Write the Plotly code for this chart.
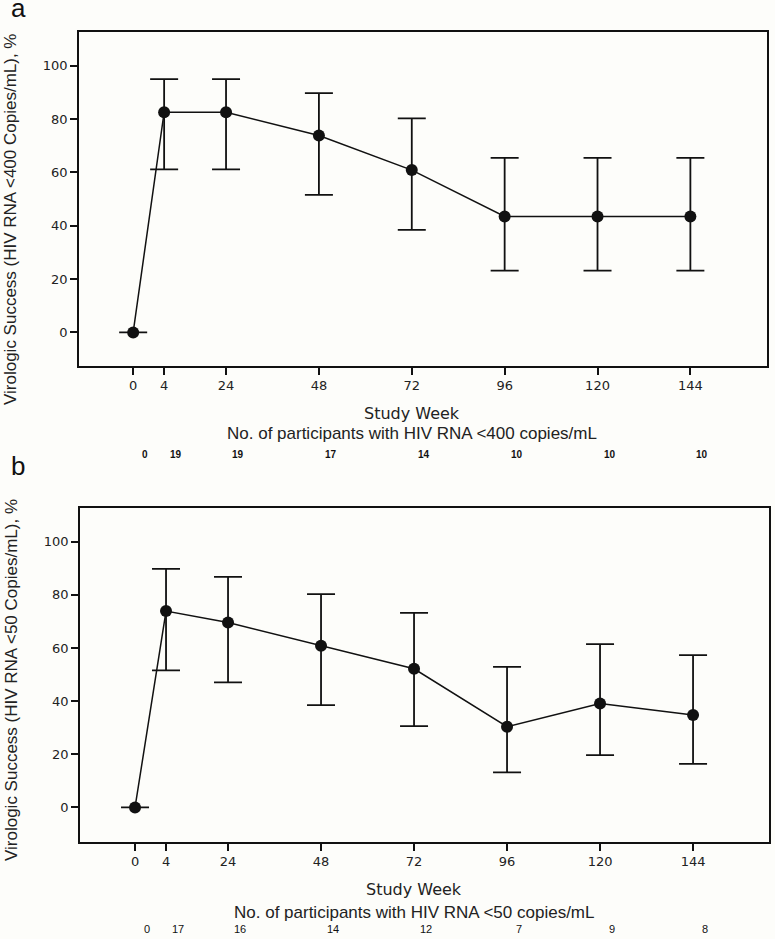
import plotly.graph_objects as go

# ---- data ----
week_labels = ["0", "4", "24", "48", "72", "96", "120", "144"]
week_pos = [0, 8, 24, 48, 72, 96, 120, 144]  # plotted positions (week 4 drawn spaced out)

a_pct = [0, 82.6, 82.6, 73.9, 60.9, 43.5, 43.5, 43.5]
a_low = [0, 61.2, 61.2, 51.6, 38.5, 23.2, 23.2, 23.2]
a_high = [0, 95.0, 95.0, 89.8, 80.3, 65.5, 65.5, 65.5]
a_n = ["0", "19", "19", "17", "14", "10", "10", "10"]

b_pct = [0, 73.9, 69.6, 60.9, 52.2, 30.4, 39.1, 34.8]
b_low = [0, 51.6, 47.1, 38.5, 30.6, 13.2, 19.7, 16.4]
b_high = [0, 89.8, 86.8, 80.3, 73.2, 52.9, 61.5, 57.3]
b_n = ["0", "17", "16", "14", "12", "7", "9", "8"]

y_ticks = [0, 20, 40, 60, 80, 100]

FONT = "Liberation Sans, Arial, sans-serif"
WIDE = "DejaVu Sans, Verdana, sans-serif"
INK = "#111111"
TXT = "#222222"
BG = "#fdfdfa"

fig = go.Figure()


def add_panel(pct, low, high, xa, ya):
    fig.add_trace(go.Scatter(
        x=week_pos, y=pct, xaxis=xa, yaxis=ya,
        mode="lines+markers",
        line=dict(color=INK, width=1.5),
        marker=dict(color=INK, size=12),
        error_y=dict(type="data", symmetric=False,
                     array=[h - p for h, p in zip(high, pct)],
                     arrayminus=[p - l for p, l in zip(pct, low)],
                     color=INK, thickness=1.8, width=14),
        showlegend=False, hoverinfo="skip",
    ))


add_panel(a_pct, a_low, a_high, "x", "y")
add_panel(b_pct, b_low, b_high, "x2", "y2")

W, H = 775, 939

axis_common = dict(showline=True, linecolor=INK, linewidth=1.5, mirror=True,
                   ticks="outside", ticklen=7, tickwidth=1.5, tickcolor=INK,
                   showgrid=False, zeroline=False, automargin=False,
                   tickfont=dict(family=WIDE, size=13, color=TXT))

fig.update_layout(
    width=W, height=H,
    margin=dict(l=0, r=0, t=0, b=0, autoexpand=False),
    paper_bgcolor=BG, plot_bgcolor=BG,
    font=dict(family=FONT, color=INK),
    xaxis=dict(domain=[79 / W, 767 / W], range=[-14, 163.8],
               tickvals=week_pos, ticktext=week_labels, anchor="y", **axis_common),
    yaxis=dict(domain=[1 - 366 / H, 1 - 32 / H], range=[-12.6, 112.7],
               tickvals=y_ticks, anchor="x", **axis_common),
    xaxis2=dict(domain=[80 / W, 769 / W], range=[-14.2, 163.6],
                tickvals=week_pos, ticktext=week_labels, anchor="y2", **axis_common),
    yaxis2=dict(domain=[1 - 842 / H, 1 - 508 / H], range=[-13.0, 112.7],
                tickvals=y_ticks, anchor="x2", **axis_common),
)

ann = []


def paper_y(py):
    return 1 - py / H


def add_texts(letter, letter_y, ytitle, ytitle_cy, xa, study_y, nol_text, nol_y,
              counts, counts_y, bold):
    ann.append(dict(text=letter, x=9 / W, y=paper_y(letter_y), xref="paper", yref="paper",
                    xanchor="left", yanchor="middle", showarrow=False,
                    font=dict(family=FONT, size=26, color=INK)))
    ann.append(dict(text=ytitle, x=11 / W, y=paper_y(ytitle_cy), xref="paper", yref="paper",
                    xanchor="center", yanchor="middle", textangle=-90, showarrow=False,
                    font=dict(family=FONT, size=17, color=TXT)))
    ann.append(dict(text="Study Week", x=72, y=paper_y(study_y), xref=xa, yref="paper",
                    xanchor="center", yanchor="middle", showarrow=False,
                    font=dict(family=WIDE, size=16, color=TXT)))
    ann.append(dict(text=nol_text, x=72, y=paper_y(nol_y), xref=xa, yref="paper",
                    xanchor="center", yanchor="middle", showarrow=False,
                    font=dict(family=FONT, size=17, color=TXT)))
    for xp, c in zip(week_pos, counts):
        ann.append(dict(text=("<b>" + c + "</b>") if bold else c, x=xp, y=paper_y(counts_y),
                        xref=xa, yref="paper",
                        xanchor="center", yanchor="middle", xshift=12, showarrow=False,
                        font=dict(family=FONT, size=11 if not bold else 10, color=INK)))


add_texts("a", 8, "Virologic Success (HIV RNA <400 Copies/mL), %", 220, "x",
          413, "No. of participants with HIV RNA <400 copies/mL", 433, a_n, 454, True)
add_texts("b", 466, "Virologic Success (HIV RNA <50 Copies/mL), %", 680, "x2",
          889, "No. of participants with HIV RNA <50 copies/mL", 912, b_n, 929, False)

fig.update_layout(annotations=ann)

fig.write_html("out.html", config={"displayModeBar": False},
               post_script="document.body.style.margin='0';")
